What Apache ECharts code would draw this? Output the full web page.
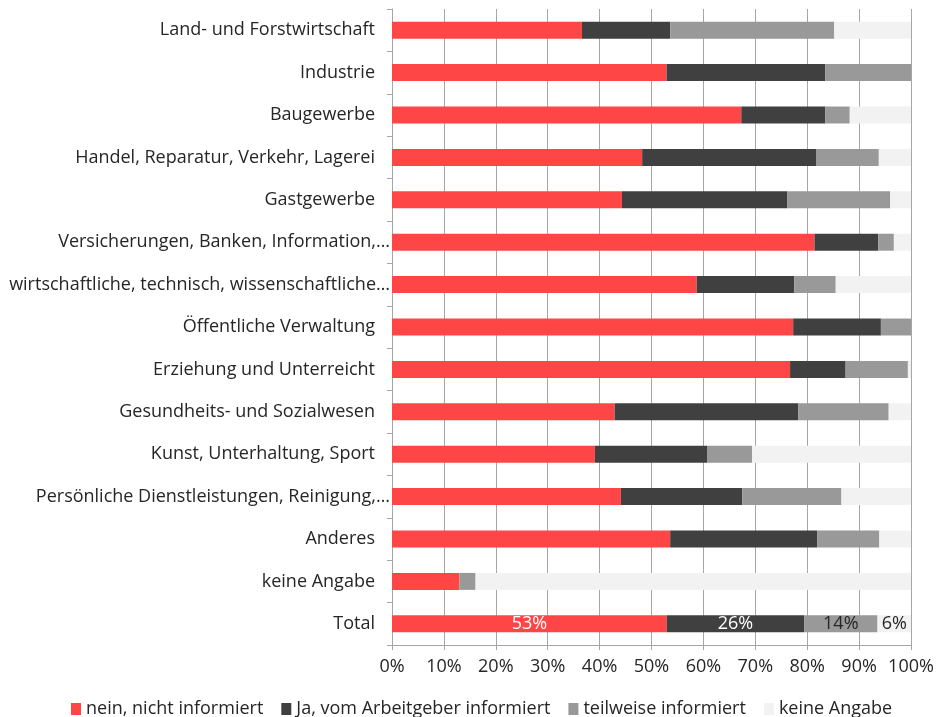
<!DOCTYPE html>
<html>
<head>
<meta charset="utf-8">
<script src="https://cdn.jsdelivr.net/npm/echarts@6/dist/echarts.min.js"></script>
<style>html,body{margin:0;padding:0;background:#fff;}#c{width:938px;height:717px;}</style>
</head>
<body>
<div id="c"></div>
<script>
const categories = [
  "Land- und Forstwirtschaft",
  "Industrie",
  "Baugewerbe",
  "Handel, Reparatur, Verkehr, Lagerei",
  "Gastgewerbe",
  "Versicherungen, Banken, Information,…",
  "wirtschaftliche, technisch, wissenschaftliche…",
  "Öffentliche Verwaltung",
  "Erziehung und Unterreicht",
  "Gesundheits- und Sozialwesen",
  "Kunst, Unterhaltung, Sport",
  "Persönliche Dienstleistungen, Reinigung,…",
  "Anderes",
  "keine Angabe",
  "Total"
];
const seriesNames = ["nein, nicht informiert", "Ja, vom Arbeitgeber informiert", "teilweise informiert", "keine Angabe"];
const nein      = [36.6, 52.9, 67.3, 48.2, 44.3, 81.4, 58.7, 77.3, 76.7, 42.9, 39.1, 44.1, 53.6, 13.0, 52.95];
const ja        = [17.0, 30.6, 16.2, 33.6, 31.9, 12.3, 18.8, 16.9, 10.7, 35.4, 21.6, 23.4, 28.3, 0.0, 26.45];
const teilweise = [31.6, 16.5, 4.7, 12.0, 19.8, 3.0, 8.0, 5.8, 12.0, 17.4, 8.7, 19.1, 12.0, 3.1, 14.15];
const keine     = [14.8, 0.0, 11.8, 6.2, 4.0, 3.3, 14.5, 0.0, 0.6, 4.3, 30.6, 13.4, 6.1, 83.9, 6.45];
const xTicks = [0, 10, 20, 30, 40, 50, 60, 70, 80, 90, 100];

const colors = ["#FF4646", "#404040", "#999999", "#F2F2F2"];
const labelColors = ["#ffffff", "#ffffff", "#262626", "#262626"];
const allValues = [nein, ja, teilweise, keine];
const totalIdx = categories.indexOf("Total");
const FONT = "Open Sans";
const FS = 18;

const series = allValues.map((vals, si) => ({
  name: seriesNames[si],
  type: "bar",
  stack: "all",
  barWidth: "40%",
  itemStyle: { color: colors[si] },
  data: vals.map((v, i) => i === totalIdx ? {
    value: v,
    label: {
      show: true, position: "inside", color: labelColors[si],
      fontFamily: FONT, fontSize: FS,
      formatter: p => Math.round(p.value) + "%"
    }
  } : v)
}));

const chart = echarts.init(document.getElementById("c"), null, { renderer: "canvas" });
chart.setOption({
  animation: false,
  textStyle: { fontFamily: FONT },
  grid: { left: 392, right: 27, top: 9, bottom: 72, containLabel: false },
  legend: {
    data: seriesNames,
    left: 66, top: 695,
    icon: "rect", itemWidth: 10, itemHeight: 12, itemGap: 18,
    textStyle: { fontFamily: FONT, fontSize: FS, color: "#262626" },
    selectedMode: false
  },
  xAxis: {
    type: "value", min: xTicks[0], max: xTicks[xTicks.length - 1], interval: 10,
    axisLine: { show: true, lineStyle: { color: "#A6A6A6" } },
    axisTick: { show: true, length: 5, lineStyle: { color: "#A6A6A6" } },
    splitLine: { show: true, lineStyle: { color: "#A6A6A6", width: 1 } },
    axisLabel: { formatter: "{value}%", fontFamily: FONT, fontSize: FS, color: "#262626", margin: 13 }
  },
  yAxis: {
    type: "category", data: categories, inverse: true,
    axisLine: { show: true, lineStyle: { color: "#A6A6A6" } },
    axisTick: { show: true, length: 5, lineStyle: { color: "#A6A6A6" } },
    axisLabel: {
      margin: 2, color: "#262626", fontFamily: FONT, fontSize: FS,
      formatter: v => v.endsWith("…") ? "{t|" + v + "}" : "{n|" + v + "}",
      rich: {
        t: { fontFamily: FONT, fontSize: FS, color: "#262626" },
        n: { fontFamily: FONT, fontSize: FS, color: "#262626", padding: [0, 15, 0, 0] }
      }
    }
  },
  series: series
});
</script>
</body>
</html>
